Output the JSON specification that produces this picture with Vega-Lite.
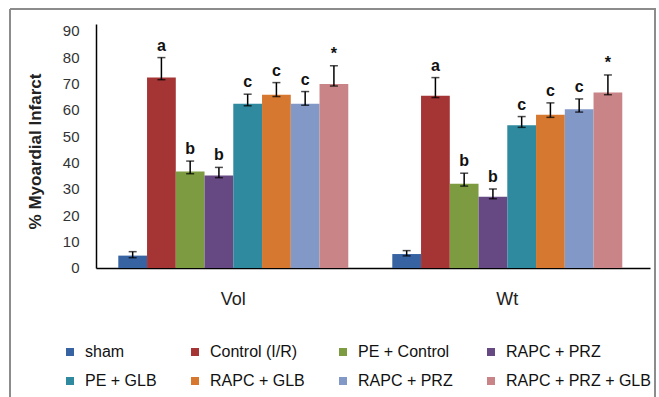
{
  "$schema": "https://vega.github.io/schema/vega-lite/v6.json",
  "width": 645,
  "height": 388,
  "autosize": {"type": "none"},
  "padding": {"left": 10, "top": 9, "right": 4, "bottom": 0},
  "background": "white",
  "config": {
    "view": {"stroke": "#8c8c8c", "strokeWidth": 2, "strokeDash": [1033, 645, 388, 0]},
    "font": "Liberation Sans",
    "axisY": {
      "offset": -86, "domain": true, "domainColor": "#000000", "domainWidth": 1.5,
      "domainDash": [244, 2000], "domainDashOffset": 2115,
      "ticks": false, "grid": false,
      "labelFontSize": 15, "labelColor": "#333333", "labelPadding": 17,
      "titleFontSize": 17, "titleFontWeight": "bold",
      "titleColor": "#222222", "titleX": -56, "titleY": 142, "titleAngle": -90,
      "titleAlign": "center", "titleBaseline": "alphabetic"
    }
  },
  "data": {
    "values": [
      {"measure": "Vol", "group": "sham", "value": 4.7, "lo": 3.9, "hi": 6.2, "label": ""},
      {"measure": "Vol", "group": "Control (I/R)", "value": 72.3, "lo": 71.5, "hi": 79.9, "label": "a"},
      {"measure": "Vol", "group": "PE + Control", "value": 36.6, "lo": 35.8, "hi": 40.6, "label": "b"},
      {"measure": "Vol", "group": "RAPC + PRZ", "value": 35.1, "lo": 34.3, "hi": 38.2, "label": "b"},
      {"measure": "Vol", "group": "PE + GLB", "value": 62.4, "lo": 61.6, "hi": 66.0, "label": "c"},
      {"measure": "Vol", "group": "RAPC + GLB", "value": 65.8, "lo": 65.1, "hi": 70.4, "label": "c"},
      {"measure": "Vol", "group": "RAPC + PRZ ", "value": 62.4, "lo": 61.8, "hi": 67.0, "label": "c"},
      {"measure": "Vol", "group": "RAPC + PRZ + GLB", "value": 69.9, "lo": 69.1, "hi": 76.8, "label": "*"},
      {"measure": "Wt", "group": "sham", "value": 5.3, "lo": 4.6, "hi": 6.6, "label": ""},
      {"measure": "Wt", "group": "Control (I/R)", "value": 65.4, "lo": 64.7, "hi": 72.3, "label": "a"},
      {"measure": "Wt", "group": "PE + Control", "value": 32.0, "lo": 31.1, "hi": 36.0, "label": "b"},
      {"measure": "Wt", "group": "RAPC + PRZ", "value": 27.1, "lo": 26.3, "hi": 30.0, "label": "b"},
      {"measure": "Wt", "group": "PE + GLB", "value": 54.2, "lo": 53.4, "hi": 57.5, "label": "c"},
      {"measure": "Wt", "group": "RAPC + GLB", "value": 58.2, "lo": 57.2, "hi": 62.7, "label": "c"},
      {"measure": "Wt", "group": "RAPC + PRZ ", "value": 60.3, "lo": 59.2, "hi": 64.2, "label": "c"},
      {"measure": "Wt", "group": "RAPC + PRZ + GLB", "value": 66.6, "lo": 65.8, "hi": 73.3, "label": "*"}
    ]
  },
  "encoding": {
    "x": {
      "field": "measure", "type": "nominal", "sort": ["Vol", "Wt"],
      "scale": {"paddingInner": 0.1606, "paddingOuter": 0.2573, "align": 0.768},
      "axis": {
        "orient": "bottom", "offset": -129, "title": null,
        "domain": true, "domainColor": "#000000", "domainWidth": 1.5,
        "domainDash": [554, 2000], "domainDashOffset": 2468,
        "ticks": false, "grid": false, "labelAngle": 0,
        "labelFontSize": 18, "labelColor": "#222222", "labelPadding": 22
      }
    },
    "xOffset": {
      "field": "group", "type": "nominal",
      "scale": {"domain": ["sham", "Control (I/R)", "PE + Control", "RAPC + PRZ", "PE + GLB", "RAPC + GLB", "RAPC + PRZ ", "RAPC + PRZ + GLB"]}
    }
  },
  "layer": [
    {
      "mark": {"type": "bar"},
      "encoding": {
        "y": {
          "field": "value", "type": "quantitative", "stack": null,
          "scale": {"domain": [-48.99, 98.35], "nice": false, "zero": false},
          "title": "% Myoardial Infarct",
          "axis": {"values": [0, 10, 20, 30, 40, 50, 60, 70, 80, 90]}
        },
        "color": {
          "field": "group", "type": "nominal",
          "scale": {
            "domain": ["sham", "Control (I/R)", "PE + Control", "RAPC + PRZ", "PE + GLB", "RAPC + GLB", "RAPC + PRZ ", "RAPC + PRZ + GLB"],
            "range": ["#3763a3", "#a53434", "#7d9b41", "#664883", "#2f8a9f", "#d6782f", "#8299c8", "#c88486"]
          },
          "legend": {
            "orient": "none", "legendX": 52, "legendY": 335, "columns": 4, "direction": "horizontal", "title": null,
            "symbolType": "square", "symbolSize": 64, "symbolStrokeWidth": 0,
            "labelFontSize": 16, "labelColor": "#111111", "labelOffset": 7, "labelLimit": 200,
            "columnPadding": 30, "rowPadding": 13, "gridAlign": "each", "padding": 0
          }
        }
      }
    },
    {
      "mark": {"type": "rule", "color": "#000000", "strokeWidth": 1.5},
      "encoding": {
        "y": {"field": "lo", "type": "quantitative", "scale": {"domain": [-48.99, 98.35], "nice": false, "zero": false}, "title": "% Myoardial Infarct", "axis": {"values": [0, 10, 20, 30, 40, 50, 60, 70, 80, 90]}},
        "y2": {"field": "hi"}
      }
    },
    {
      "mark": {"type": "tick", "color": "#000000", "thickness": 1.5, "size": 8, "orient": "horizontal"},
      "encoding": {
        "y": {"field": "hi", "type": "quantitative", "scale": {"domain": [-48.99, 98.35], "nice": false, "zero": false}, "title": "% Myoardial Infarct", "axis": {"values": [0, 10, 20, 30, 40, 50, 60, 70, 80, 90]}}
      }
    },
    {
      "mark": {"type": "tick", "color": "#000000", "thickness": 1.5, "size": 8, "orient": "horizontal"},
      "encoding": {
        "y": {"field": "lo", "type": "quantitative", "scale": {"domain": [-48.99, 98.35], "nice": false, "zero": false}, "title": "% Myoardial Infarct", "axis": {"values": [0, 10, 20, 30, 40, 50, 60, 70, 80, 90]}}
      }
    },
    {
      "mark": {"type": "text", "fontSize": 16, "fontWeight": "bold", "baseline": "alphabetic", "dy": -7, "color": "#111111"},
      "encoding": {
        "y": {"field": "hi", "type": "quantitative", "scale": {"domain": [-48.99, 98.35], "nice": false, "zero": false}, "title": "% Myoardial Infarct", "axis": {"values": [0, 10, 20, 30, 40, 50, 60, 70, 80, 90]}},
        "text": {"field": "label"}
      }
    }
  ]
}
